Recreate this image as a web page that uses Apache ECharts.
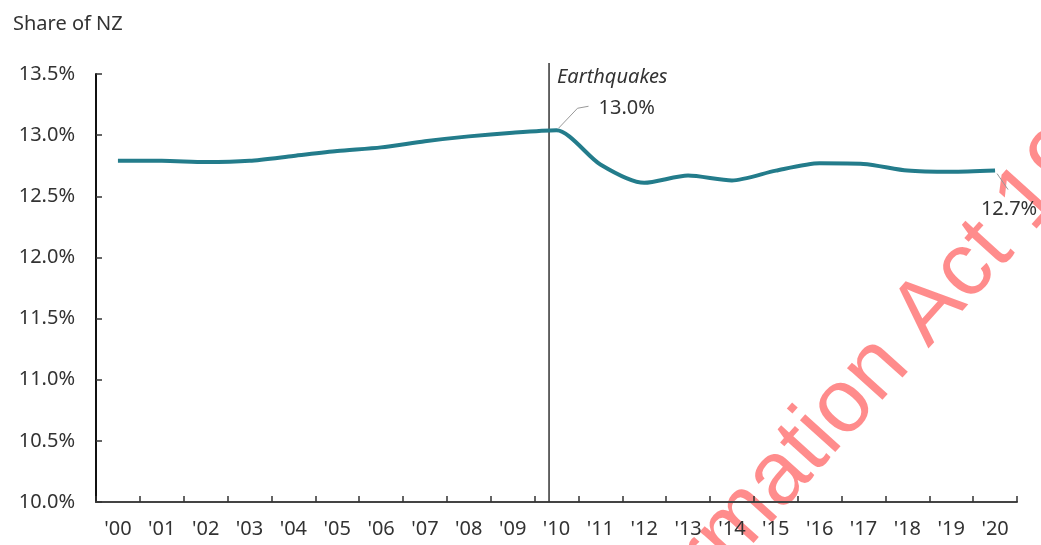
<!DOCTYPE html>
<html>
<head>
<meta charset="utf-8">
<script src="https://cdn.jsdelivr.net/npm/echarts@6/dist/echarts.min.js"></script>
<style>
html,body{margin:0;padding:0;background:#fff;}
#chart{width:1041px;height:545px;}
</style>
</head>
<body>
<div id="chart"></div>
<script>
// ---- data ----
const categories = ["'00","'01","'02","'03","'04","'05","'06","'07","'08","'09","'10",
                    "'11","'12","'13","'14","'15","'16","'17","'18","'19","'20"];
const shareValues = [12.79,12.79,12.78,12.79,12.83,12.87,12.90,12.95,12.99,13.02,13.04,
                     12.76,12.61,12.67,12.63,12.71,12.77,12.765,12.71,12.70,12.71];
const yTicks = [10.0,10.5,11.0,11.5,12.0,12.5,13.0,13.5];
const titleText = 'Share of NZ';
const eventLabel = 'Earthquakes';
const eventFraction = 9.83;          // position of the earthquake line, in category units
const callouts = [{index:10, text:'13.0%'}, {index:20, text:'12.7%'}];
const watermarkText = 'Released under the Official Information Act 1982';
const watermarkPrefix = 'Released under the Official Information ';

const FONT = '"Noto Sans", "Open Sans", sans-serif';
const chart = echarts.init(document.getElementById('chart'), null, {renderer:'canvas'});

chart.setOption({
  animation:false,
  backgroundColor:'#fff',
  title:{text:titleText,left:8,top:9,textStyle:{fontFamily:FONT,fontSize:20,fontWeight:'normal',color:'#333'}},
  grid:{left:96,right:24,top:74,bottom:43,containLabel:false},
  xAxis:{
    type:'category',data:categories,boundaryGap:true,
    axisLine:{show:true,lineStyle:{color:'#444',width:2}},
    axisTick:{show:true,inside:true,length:6,alignWithLabel:false,lineStyle:{color:'#333',width:1.5}},
    axisLabel:{fontFamily:FONT,fontSize:20,color:'#333',margin:17,interval:0}
  },
  yAxis:{
    type:'value',min:yTicks[0],max:yTicks[yTicks.length-1],interval:0.5,
    axisLine:{show:true,lineStyle:{color:'#111',width:2}},
    axisTick:{show:true,inside:true,length:6,lineStyle:{color:'#333',width:1.5}},
    splitLine:{show:false},
    axisLabel:{fontFamily:FONT,fontSize:20,color:'#333',margin:21,formatter:v=>v.toFixed(1)+'%'}
  },
  series:[{
    type:'line',data:shareValues,smooth:0.25,symbol:'none',
    lineStyle:{color:'#237c8b',width:4},z:3
  }]
});

function buildGraphics(){
  const px = (i,v)=>chart.convertToPixel({xAxisIndex:0,yAxisIndex:0},[categories[i],v]);
  const g = [];
  // earthquake line
  const x9 = px(9,yTicks[0])[0], x10 = px(10,yTicks[0])[0];
  const ex = x9 + (eventFraction-9)*(x10-x9);
  const yBottom = chart.convertToPixel({yAxisIndex:0}, yTicks[0]);
  const yTop = chart.convertToPixel({yAxisIndex:0}, yTicks[yTicks.length-1]) - 11;
  g.push({type:'line',shape:{x1:ex,y1:yBottom,x2:ex,y2:yTop},style:{stroke:'#333',lineWidth:1.5},z:2});
  g.push({type:'text',x:ex+8,y:yTop+14,style:{text:eventLabel,font:'italic 20px '+FONT,fill:'#333',align:'left',verticalAlign:'middle'},z:5});
  // callouts
  const c0 = callouts[0], p0 = px(c0.index, shareValues[c0.index]);
  g.push({type:'polyline',shape:{points:[[p0[0]+2,p0[1]-2],[p0[0]+21,p0[1]-22],[p0[0]+32,p0[1]-24]]},style:{stroke:'#999',lineWidth:1,fill:null},z:5});
  g.push({type:'text',x:p0[0]+42,y:p0[1]-22,style:{text:c0.text,font:'20px '+FONT,fill:'#333',align:'left',verticalAlign:'middle'},z:5});
  const c1 = callouts[1], p1 = px(c1.index, shareValues[c1.index]);
  g.push({type:'polyline',shape:{points:[[p1[0]+2,p1[1]+3],[p1[0]+13,p1[1]+19]]},style:{stroke:'#999',lineWidth:1,fill:null},z:5});
  g.push({type:'text',x:p1[0]+14,y:p1[1]+39,style:{text:c1.text,font:'20px '+FONT,fill:'#333',align:'center',verticalAlign:'middle'},z:5});
  // watermark
  const fs = 90;
  const wmFont = fs+'px "Liberation Sans", Arial, sans-serif';
  const ctx = document.createElement('canvas').getContext('2d');
  ctx.font = wmFont;
  const prefixW = ctx.measureText(watermarkPrefix).width;
  g.push({type:'group',x:932,y:352,rotation:48*Math.PI/180,z:100,children:[
    {type:'text',x:-prefixW,y:-0.33*fs,style:{text:watermarkText,font:wmFont,fill:'rgba(255,0,0,0.45)',align:'left',verticalAlign:'middle'}}
  ]});
  chart.setOption({graphic:g});
}
buildGraphics();
</script>
</body>
</html>
